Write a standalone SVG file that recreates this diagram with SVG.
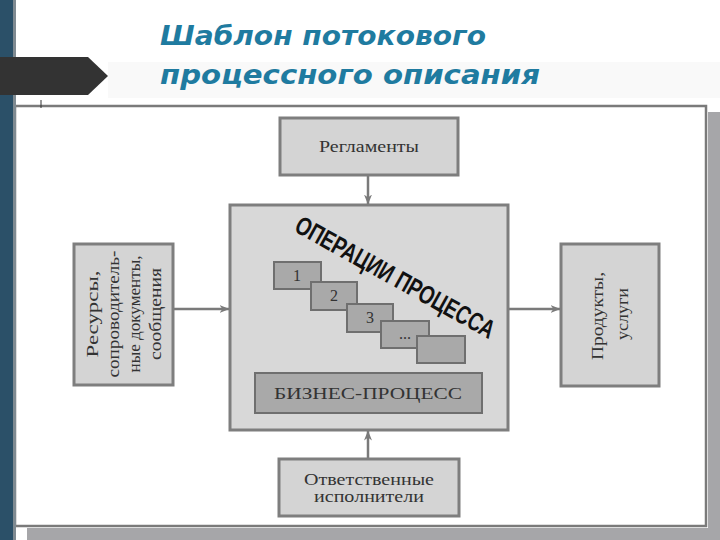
<svg xmlns="http://www.w3.org/2000/svg" width="720" height="540" viewBox="0 0 720 540">
  <defs>
    <marker id="ah" viewBox="0 0 10 8" refX="9.5" refY="4" markerWidth="10" markerHeight="8" markerUnits="userSpaceOnUse" orient="auto">
      <path d="M0,0 L10,4 L0,8 L3,4 Z" fill="#7a7a7a"/>
    </marker>
    <style>
      .box { fill: #d4d4d4; stroke: #7e7e7e; stroke-width: 3; }
      .main { fill: #d8d8d8; stroke: #7e7e7e; stroke-width: 3; }
      .op { fill: #a9a9a9; stroke: #6f6f6f; stroke-width: 2; }
      .t { font-family: "Liberation Serif", "DejaVu Serif", serif; fill: #333; font-size: 16px; }
      .c { stroke: #7a7a7a; stroke-width: 2.5; fill: none; marker-end: url(#ah); }
      .title { font-family: "DejaVu Sans", "Liberation Sans", sans-serif; font-style: italic; font-weight: bold; fill: #1f7ba0; font-size: 27px; }
    </style>
  </defs>

  <!-- background -->
  <rect x="0" y="0" width="720" height="540" fill="#ffffff"/>
  <rect x="108" y="62" width="612" height="36" fill="#f9f9f9"/>

  <!-- shadows of frame -->
  <rect x="708" y="112" width="12" height="428" fill="#a6a6a9"/>
  <rect x="27" y="528" width="693" height="12" fill="#a6a6a9"/>

  <!-- frame -->
  <rect x="15" y="106" width="691" height="420" fill="#ffffff" stroke="#7a7a7a" stroke-width="2.5"/>

  <!-- left bar -->
  <rect x="0" y="0" width="13" height="540" fill="#2b5068"/>
  <rect x="13" y="0" width="3" height="540" fill="#7f8a91"/>
  <polygon points="0,57 88,57 108,76 88,95 0,95" fill="#333333"/>
  <line x1="41" y1="100" x2="41" y2="108" stroke="#333" stroke-width="1"/>

  <!-- title -->
  <text class="title" x="160" y="45" textLength="326" lengthAdjust="spacingAndGlyphs">Шаблон потокового</text>
  <text class="title" x="160" y="84" textLength="380" lengthAdjust="spacingAndGlyphs">процессного описания</text>

  <!-- connectors -->
  <g id="connectors">
    <line class="c" x1="368" y1="176" x2="368" y2="204"/>
    <line class="c" x1="368" y1="459" x2="368" y2="431"/>
    <line class="c" x1="174" y1="309" x2="229" y2="309"/>
    <line class="c" x1="509" y1="309" x2="560" y2="309"/>
  </g>

  <g id="reglamenty">
    <rect class="box" x="280" y="118" width="178" height="57"/>
    <text class="t" x="369" y="152" text-anchor="middle" font-size="17" textLength="100" lengthAdjust="spacingAndGlyphs">Регламенты</text>
  </g>

  <g id="business-process">
    <rect class="main" x="230" y="205" width="278" height="225"/>
    <text x="0" y="0" transform="translate(391,285) rotate(29)" text-anchor="middle" font-family="Liberation Sans, Arial, sans-serif" font-weight="bold" font-size="26" fill="#111" textLength="224" lengthAdjust="spacingAndGlyphs">ОПЕРАЦИИ ПРОЦЕССА</text>
  </g>

  <g id="op1">
    <rect class="op" x="274" y="262" width="47" height="27"/>
    <text class="t" x="297" y="281" text-anchor="middle">1</text>
  </g>
  <g id="op2">
    <rect class="op" x="311" y="282" width="46" height="28"/>
    <text class="t" x="334" y="301" text-anchor="middle">2</text>
  </g>
  <g id="op3">
    <rect class="op" x="347" y="304" width="46" height="28"/>
    <text class="t" x="370" y="323" text-anchor="middle">3</text>
  </g>
  <g id="op4">
    <rect class="op" x="381" y="321" width="48" height="27"/>
    <text class="t" x="405" y="339" text-anchor="middle">...</text>
  </g>
  <g id="op5">
    <rect class="op" x="417" y="336" width="48" height="27"/>
  </g>

  <g id="bp-label">
    <rect class="op" x="255" y="373" width="227" height="40"/>
    <text class="t" x="368" y="399" text-anchor="middle" font-size="18" textLength="188" lengthAdjust="spacingAndGlyphs">БИЗНЕС-ПРОЦЕСС</text>
  </g>

  <g id="resources">
    <rect class="box" x="74" y="244" width="99" height="141"/>
    <text class="t" transform="translate(98,314) rotate(-90)" text-anchor="middle" font-size="17" textLength="87" lengthAdjust="spacingAndGlyphs">Ресурсы,</text>
    <text class="t" transform="translate(119,314) rotate(-90)" text-anchor="middle" font-size="17" textLength="127" lengthAdjust="spacingAndGlyphs">сопроводитель-</text>
    <text class="t" transform="translate(140,314) rotate(-90)" text-anchor="middle" font-size="17" textLength="117" lengthAdjust="spacingAndGlyphs">ные документы,</text>
    <text class="t" transform="translate(161,314) rotate(-90)" text-anchor="middle" font-size="17" textLength="92" lengthAdjust="spacingAndGlyphs">сообщения</text>
  </g>

  <g id="products">
    <rect class="box" x="561" y="244" width="98" height="142"/>
    <text class="t" transform="translate(603,316) rotate(-90)" text-anchor="middle" font-size="17" textLength="88" lengthAdjust="spacingAndGlyphs">Продукты,</text>
    <text class="t" transform="translate(628,314) rotate(-90)" text-anchor="middle" font-size="17" textLength="52" lengthAdjust="spacingAndGlyphs">услуги</text>
  </g>

  <g id="executors">
    <rect class="box" x="279" y="459" width="180" height="57"/>
    <text class="t" x="369" y="485" text-anchor="middle" textLength="130" lengthAdjust="spacingAndGlyphs">Ответственные</text>
    <text class="t" x="369" y="502" text-anchor="middle" textLength="110" lengthAdjust="spacingAndGlyphs">исполнители</text>
  </g>
</svg>
